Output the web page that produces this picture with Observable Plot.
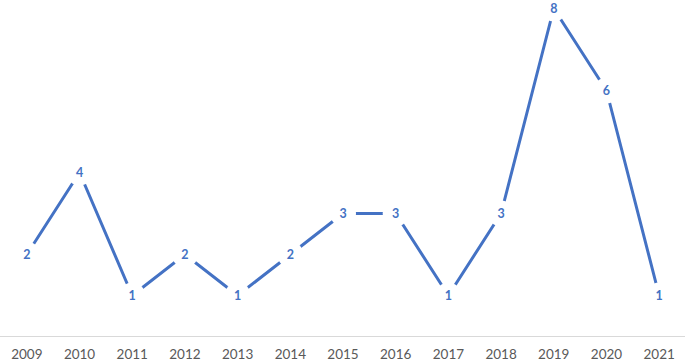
<!DOCTYPE html>
<html><head><meta charset="utf-8">
<script src="https://cdn.jsdelivr.net/npm/d3@7"></script>
<script src="https://cdn.jsdelivr.net/npm/@observablehq/plot@0.6"></script>
<style>body{margin:0;background:#fff}</style>
</head><body><div id="chart"></div>
<script>
const years = ["2009","2010","2011","2012","2013","2014","2015","2016","2017","2018","2019","2020","2021"];
const values = [2,4,1,2,1,2,3,3,1,3,8,6,1];
const data = years.map((y,i)=>({year:y, value:values[i]}));
const blue = "#4472C4";
const chart = Plot.plot({
  width: 685, height: 361,
  marginLeft: 0, marginRight: 0, marginTop: 8, marginBottom: 25,
  style: {fontFamily: "Lato, 'Open Sans', sans-serif", background: "#fff"},
  x: {type: "band", domain: years, padding: 0, round: false, label: null},
  y: {domain: [0, 8], axis: null},
  marks: [
    Plot.ruleY([0], {stroke: "#d9d9d9", strokeWidth: 1}),
    Plot.axisX({tickSize: 0, tickPadding: 13, fontSize: 13.5, color: "#595959", label: null}),
    Plot.line(data, {x: "year", y: "value", stroke: blue, strokeWidth: 3}),
    Plot.dot(data, {x: "year", y: "value", r: 13, fill: "white", stroke: null}),
    Plot.text(data, {x: "year", y: "value", text: d => String(d.value), fill: blue, fontWeight: "bold", fontSize: 12.5})
  ]
});
document.getElementById("chart").append(chart);
</script></body></html>
